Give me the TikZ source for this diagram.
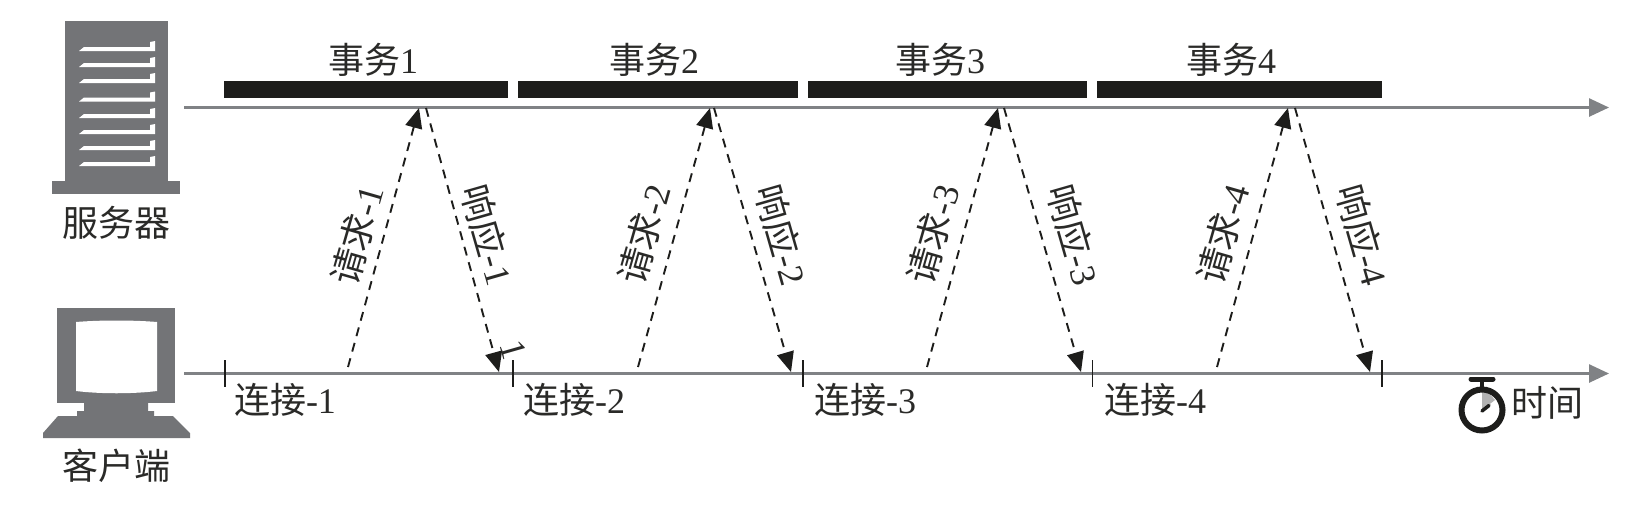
\documentclass[tikz,border=0pt]{standalone}
\usepackage{fontspec}
\setmainfont{Liberation Serif}
\newfontfamily\cjk{Noto Sans CJK SC}[Scale=1]
\usetikzlibrary{arrows.meta}
\definecolor{icongray}{HTML}{737477}
\definecolor{axisgray}{HTML}{808285}
\definecolor{barblack}{HTML}{1D1D1B}
\definecolor{txt}{HTML}{2A2A28}
\newcommand{\hz}[1]{{\cjk #1}}
\tikzset{
  lbl/.style={inner sep=0pt,text=txt,font=\fontsize{36}{36}\selectfont},
  tlbl/.style={lbl},
  axisline/.style={draw=axisgray,line width=2.6pt,-{Triangle[length=20pt,width=18pt,fill=axisgray]}},
  tickmark/.style={draw=barblack,line width=1.9pt},
  msg/.style={draw=barblack,line width=1.9pt,dash pattern=on 9pt off 7pt,-{Triangle[length=20pt,width=17pt,fill=barblack]}},
  txbar/.style={fill=barblack,draw=none},
  icon/.style={fill=icongray,draw=none},
}
\newcommand{\srvline}[1]{\fill[white] (79,#1+1) -- (84,#1-3) -- (150,#1-3) -- (150,#1-8) -- (155,#1-9) -- (155,#1+1) -- cycle;}
\begin{document}
\begin{tikzpicture}[x=1pt,y=-1pt]
\useasboundingbox (0,0) rectangle (1644,504);
\fill[white] (0,0) rectangle (1644,504);
% server icon
\fill[icon] (65,21) rectangle (168,182);
\fill[icon] (52,181) rectangle (180,194);
\foreach \y in {50,66,82,100.5,117,133,149,165} {\srvline{\y}}
\node[lbl] (server) at (116,223) {\hz{服务器}};
% client icon
\fill[icon] (57,308) rectangle (175,403);
\fill[white] (76,322) .. controls (100,320) and (133,320) .. (157,322) -- (157,391) .. controls (133,394) and (100,394) .. (76,391) -- cycle;
\fill[icon] (43,433) -- (58,416) -- (77,416) -- (77,411) -- (84,411) -- (84,403) -- (148,403) -- (148,411) -- (154,411) -- (154,416) -- (173,416) -- (190,433) -- (190,438) -- (43,438) -- cycle;
\node[lbl] (client) at (116,466) {\hz{客户端}};
% axes
\coordinate (s0) at (184,107.5);
\coordinate (s1) at (1609,107.5);
\coordinate (c0) at (184,373.5);
\coordinate (c1) at (1609,373.5);
\draw[axisline] (s0) -- (s1);
\draw[axisline] (c0) -- (c1);
% transaction bars
\fill[txbar] (224,81) rectangle (508,98);
\fill[txbar] (518,81) rectangle (798,98);
\fill[txbar] (808,81) rectangle (1087,98);
\fill[txbar] (1097,81) rectangle (1382,98);
\node[lbl] (t1) at (373,60) {\hz{事务}1};
\node[lbl] (t2) at (654,60) {\hz{事务}2};
\node[lbl] (t3) at (940,60) {\hz{事务}3};
\node[lbl] (t4) at (1231,60) {\hz{事务}4};
% ticks
\foreach \n/\x in {0/225,1/513,2/803,3/1092.5,4/1382} {
  \coordinate (ta\n) at (\x,360);
  \coordinate (tb\n) at (\x,387);
  \draw[tickmark] (ta\n) -- (tb\n);
}
\node[lbl] (c1l) at (285,400) {\hz{连接}-1};
\node[lbl] (c2l) at (574,400) {\hz{连接}-2};
\node[lbl] (c3l) at (865,400) {\hz{连接}-3};
\node[lbl] (c4l) at (1155,400) {\hz{连接}-4};
% messages
\coordinate (qa1) at (348,367); \coordinate (qb1) at (419,108);
\coordinate (ra1) at (426,108); \coordinate (rb1) at (499,372);
\coordinate (qa2) at (638,367); \coordinate (qb2) at (710,108);
\coordinate (ra2) at (714,108); \coordinate (rb2) at (791,372);
\coordinate (qa3) at (927,367); \coordinate (qb3) at (998,108);
\coordinate (ra3) at (1004,108); \coordinate (rb3) at (1081,372);
\coordinate (qa4) at (1217,367); \coordinate (qb4) at (1288,108);
\coordinate (ra4) at (1295,108); \coordinate (rb4) at (1370,372);
\foreach \i in {1,2,3,4} {
  \draw[msg] (qa\i) -- (qb\i);
  \draw[msg] (ra\i) -- (rb\i);
}
\node[tlbl,rotate=74] (q1) at (357,235) {\hz{请求}-1};
\node[tlbl,rotate=74] (q2) at (644,234) {\hz{请求}-2};
\node[tlbl,rotate=74] (q3) at (933,234) {\hz{请求}-3};
\node[tlbl,rotate=74] (q4) at (1223,234) {\hz{请求}-4};
\node[tlbl,rotate=-74] (r1) at (488,235) {\hz{响应}-1};
\node[tlbl,rotate=-74] (r2) at (782,235) {\hz{响应}-2};
\node[tlbl,rotate=-74] (r3) at (1074,235) {\hz{响应}-3};
\node[tlbl,rotate=-74] (r4) at (1363,235) {\hz{响应}-4};
\node[tlbl,rotate=-74] (r1x) at (513,350) {1};
% stopwatch
\fill[black!30] (1482,410) -- (1482,392) -- (1487,393) -- (1491,395.5) -- (1495,400) -- cycle;
\draw[barblack,line width=6pt] (1482,410) circle[radius=20.5];
\draw[barblack,line width=5pt,line cap=round] (1471,379) -- (1493,379);
\draw[barblack,line width=4.5pt] (1482,379) -- (1482,388);
\draw[barblack,line width=3.5pt,line cap=round] (1482,411) -- (1489,405.5);
\node[lbl] (timel) at (1547,403) {\hz{时间}};
\end{tikzpicture}
\end{document}
